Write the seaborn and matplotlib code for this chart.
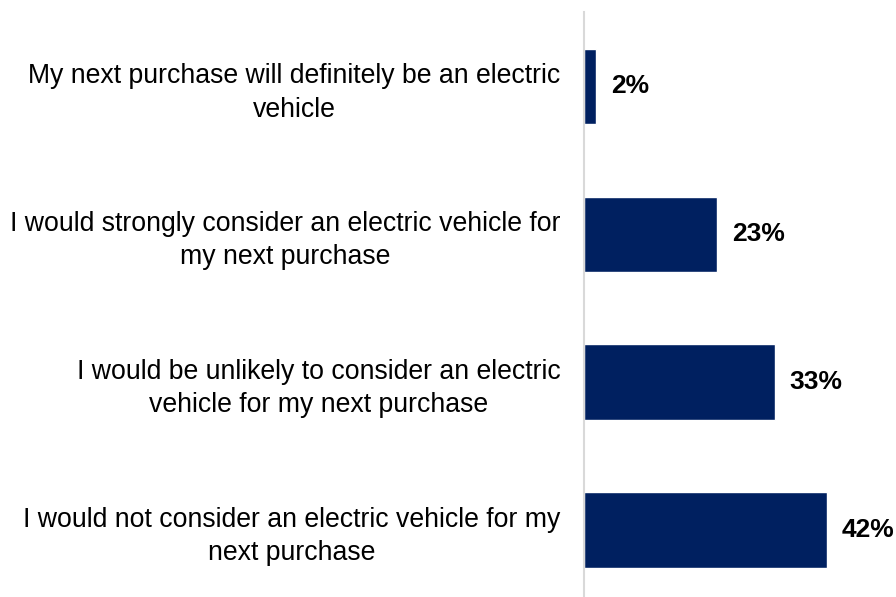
import matplotlib
matplotlib.use("Agg")
import matplotlib.pyplot as plt
import seaborn as sns
import pandas as pd

categories = [
    "My next purchase will definitely be an electric\nvehicle",
    "I would strongly consider an electric vehicle for\nmy next purchase",
    "I would be unlikely to consider an electric\nvehicle for my next purchase",
    "I would not consider an electric vehicle for my\nnext purchase",
]
values = [2, 23, 33, 42]

sns.set_theme(style="white")
plt.rcParams["font.family"] = ["Liberation Sans", "DejaVu Sans"]

df = pd.DataFrame({"statement": categories, "share": values})

fig = plt.figure(figsize=(8.96, 5.97), dpi=100)
ax = fig.add_axes([0.652, 0.0, 0.348, 0.98])

sns.barplot(data=df, x="share", y="statement", color="#002060",
            width=0.51, saturation=1, ax=ax, orient="h")

ax.set_xlim(0, 54)
ax.set_ylim(3.453, -0.503)
ax.set_xlabel("")
ax.set_ylabel("")
ax.set_xticks([])

for side in ["top", "right", "bottom"]:
    ax.spines[side].set_visible(False)
ax.spines["left"].set_color("#d9d9d9")
ax.spines["left"].set_linewidth(1.5)

ax.tick_params(axis="y", length=0, pad=17, labelsize=19.2, labelcolor="black")
for lbl in ax.get_yticklabels():
    lbl.set_multialignment("center")
    lbl.set_linespacing(1.36)

for i, v in enumerate(values):
    ax.text(v + 2.6, i, f"{v}%", va="center", ha="left",
            fontsize=19, fontweight="bold", color="black")

fig.savefig("out.png", dpi=100)
